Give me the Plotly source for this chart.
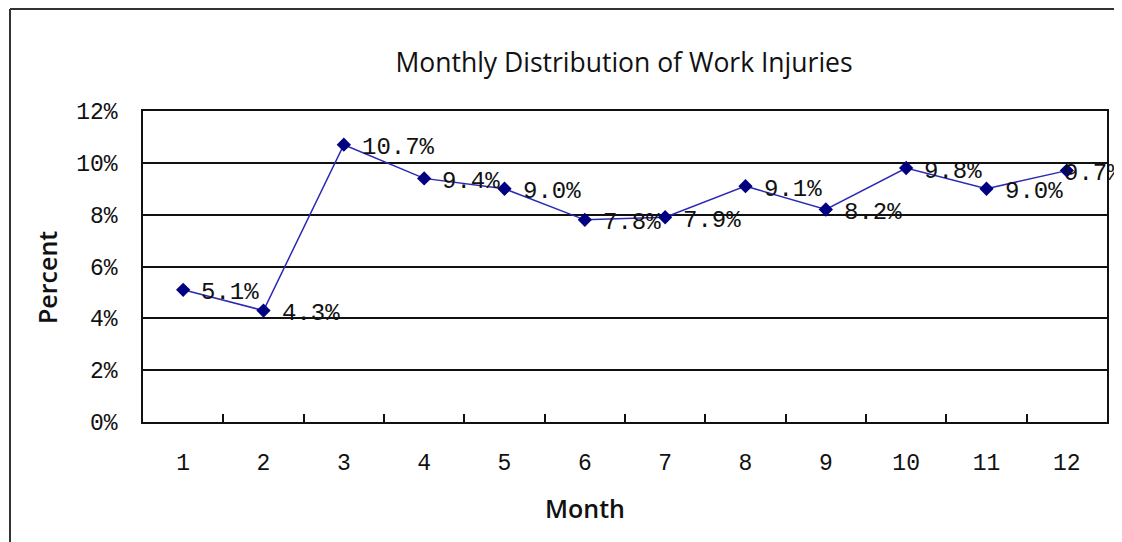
import plotly.graph_objects as go

months = ["1", "2", "3", "4", "5", "6", "7", "8", "9", "10", "11", "12"]
percent = [5.1, 4.3, 10.7, 9.4, 9.0, 7.8, 7.9, 9.1, 8.2, 9.8, 9.0, 9.7]
labels = ["%.1f%%" % v for v in percent]
y_ticks = [0, 2, 4, 6, 8, 10, 12]
y_tick_text = ["%d%%" % t for t in y_ticks]

# page is rendered with an 8px body margin -> figure is offset by 8px
OFF = 8
W, H = 1122 - OFF, 542 - OFF
PL, PR, PT, PB = 143, 1107, 111, 422  # plot area in page px

mono = "Liberation Mono"


def px_x(px):
    return (px - PL) / (PR - PL)


def px_y(py):
    return (PB - py) / (PB - PT)


fig = go.Figure()
fig.add_trace(go.Scatter(
    x=months, y=percent, mode="lines+markers",
    line=dict(color="#2a2ab4", width=1.5),
    marker=dict(symbol="diamond", size=11, color="#000080"),
    cliponaxis=False, showlegend=False,
))

annotations = []
n = len(months)
for i, (v, t) in enumerate(zip(percent, labels)):
    xs = 16 if i < n - 1 else -5
    annotations.append(dict(
        x=i, y=v, xref="x", yref="y", text=t, showarrow=False,
        xanchor="left", yanchor="middle", xshift=xs, yshift=-3,
        font=dict(family=mono, size=24, color="#111"),
    ))

annotations += [
    dict(text="Percent", x=px_x(47), y=px_y(278), xref="paper", yref="paper",
         textangle=-90, showarrow=False, xanchor="center", yanchor="middle",
         font=dict(family="Open Sans", size=25, color="#111", weight=600)),
    dict(text="Month", x=px_x(585), y=px_y(508), xref="paper", yref="paper",
         showarrow=False, xanchor="center", yanchor="middle",
         font=dict(family="Open Sans", size=25, color="#111", weight=600)),
]

fig.update_layout(
    width=W, height=H,
    margin=dict(l=PL - OFF, r=W - (PR - OFF), t=PT - OFF, b=H - (PB - OFF)),
    paper_bgcolor="white", plot_bgcolor="white",
    title=dict(text="Monthly Distribution of Work Injuries",
               x=(624 - OFF) / W, xanchor="center", xref="container",
               y=1 - (63 - OFF) / H, yanchor="middle", yref="container",
               font=dict(family="Open Sans", size=26.5, color="#111", weight=500)),
    xaxis=dict(type="category", range=[-0.5, 11.5],
               showgrid=False, showline=True, linecolor="#111", linewidth=1.5,
               mirror=True, tickson="boundaries", ticks="inside", ticklen=8,
               tickcolor="#111", tickwidth=1.5,
               tickfont=dict(family=mono, size=23, color="#111"),
               ticklabelstandoff=19),
    yaxis=dict(range=[0, 12], tickvals=y_ticks, ticktext=y_tick_text,
               showgrid=True, gridcolor="#111", gridwidth=1.5,
               showline=True, linecolor="#111", linewidth=1.5, mirror=True,
               ticks="", zeroline=False,
               tickfont=dict(family=mono, size=23, color="#111"),
               ticklabelstandoff=19),
    annotations=annotations,
    shapes=[
        dict(type="line", xref="paper", yref="paper",
             x0=px_x(10), x1=px_x(10), y0=px_y(9), y1=px_y(560),
             line=dict(color="#333", width=2)),
        dict(type="line", xref="paper", yref="paper",
             x0=px_x(10), x1=px_x(1140), y0=px_y(9), y1=px_y(9),
             line=dict(color="#333", width=2)),
    ],
)

fig.write_html("out.html")
